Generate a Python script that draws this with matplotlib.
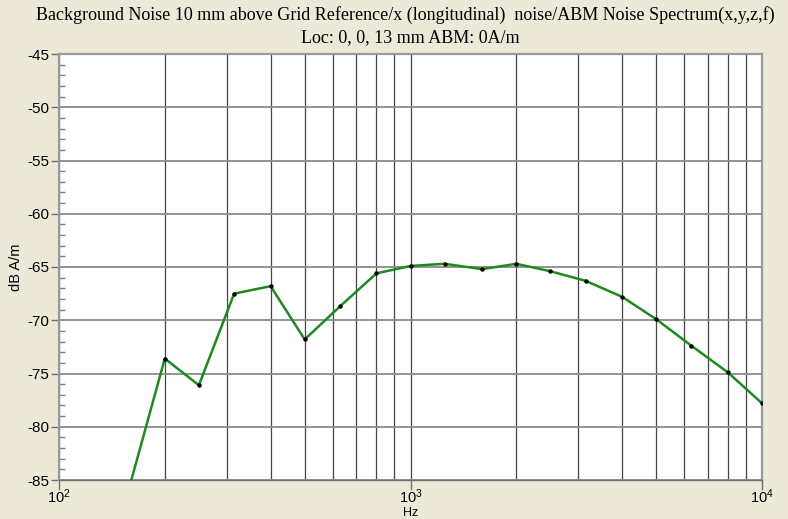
import math
import matplotlib
matplotlib.use("Agg")
import matplotlib.pyplot as plt
from matplotlib.ticker import LogLocator, FixedLocator, NullFormatter, FuncFormatter

plt.rcParams["axes.unicode_minus"] = False
plt.rcParams["mathtext.fontset"] = "custom"
plt.rcParams["mathtext.rm"] = "Liberation Sans"

freqs = [160, 200, 250, 315, 400, 500, 630, 800, 1000, 1250, 1600, 2000,
         2500, 3150, 4000, 5000, 6300, 8000, 10000]
levels = [-85.2, -73.6, -76.1, -67.5, -66.8, -71.8, -68.7, -65.6, -64.9, -64.7,
          -65.2, -64.7, -65.4, -66.3, -67.8, -69.9, -72.4, -74.9, -77.8]
y_ticks = [-85, -80, -75, -70, -65, -60, -55, -50, -45]
title1 = "Background Noise 10 mm above Grid Reference/x (longitudinal)  noise/ABM Noise Spectrum(x,y,z,f)"
title2 = "Loc: 0, 0, 13 mm ABM: 0A/m"

bg = "#ECE9D8"
fig = plt.figure(figsize=(7.88, 5.19), dpi=100, facecolor=bg)
ax = fig.add_axes([59/788, 1-480/519, (762-59)/788, (480-54)/519])
ax.set_facecolor("white")
ax.set_xscale("log")
ax.set_xlim(100, 10000)
ax.set_ylim(-85, -45)

ax.plot(freqs, levels, color="#1E8A1E", lw=1.8, zorder=3, clip_on=True)
ax.plot(freqs[1:], levels[1:], ls="none", marker="o", ms=2.2, color="black", zorder=4)

ax.set_yticks(y_ticks)
ax.yaxis.set_minor_locator(FixedLocator(list(range(-84, -45))))
ax.xaxis.set_major_locator(FixedLocator([100, 1000, 10000]))
ax.xaxis.set_minor_locator(LogLocator(base=10, subs=range(2, 10)))
ax.xaxis.set_minor_formatter(NullFormatter())
ax.xaxis.set_major_formatter(FuncFormatter(lambda v, p: r"$\mathregular{10^{%d}}$" % round(math.log10(v))))
ax.grid(True, axis="y", which="major", color="#8A8A8A", lw=1.3, zorder=1)
ax.grid(True, axis="x", which="both", color="#454545", lw=0.9, zorder=1)

ax.tick_params(axis="y", which="major", direction="out", length=6, width=1, color="#707070",
               labelsize=11, pad=1)
ax.tick_params(axis="y", which="minor", direction="in", length=4, width=1, color="#808080")
ax.tick_params(axis="x", which="major", direction="out", length=7, width=1, color="#707070",
               labelsize=10.5, pad=-2)
ax.tick_params(axis="x", which="minor", length=0)
for lab in ax.get_yticklabels() + ax.get_xticklabels():
    lab.set_family("Liberation Sans")

for side in ["left", "right", "top", "bottom"]:
    ax.spines[side].set_color("#9A9A9A")
    ax.spines[side].set_linewidth(1.6)
ax.spines["bottom"].set_color("#707070")
ax.spines["bottom"].set_linewidth(1.0)

ax.set_ylabel("dB A/m", family="Liberation Sans", fontsize=10.5, labelpad=3)
ax.set_xlabel("Hz", family="Liberation Sans", fontsize=9, va="baseline")
ax.xaxis.set_label_coords(0.5, -36/426)

fig.text(405/788, 1-15/519, title1, ha="center", va="center", family="Liberation Serif", fontsize=13)
fig.text(410/788, 1-38/519, title2, ha="center", va="center", family="Liberation Serif", fontsize=13)

fig.savefig("out.png", dpi=100, facecolor=bg)
